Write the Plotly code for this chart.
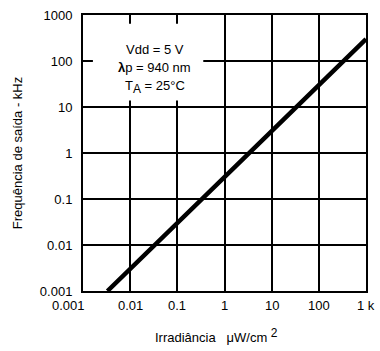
import math
import plotly.graph_objects as go

# Data (log-log, y ≈ 0.3·x)
irradiance = [0.0033, 0.01, 0.1, 1, 10, 100, 1000]          # µW/cm²
frequency = [0.001, 0.003, 0.03, 0.3, 3, 30, 300]            # kHz

x_tick_vals = [0.001, 0.01, 0.1, 1, 10, 100, 1000]
x_tick_text = ["0.001", "0.01", "0.1", "1", "10", "100", "1 k"]
y_tick_vals = [0.001, 0.01, 0.1, 1, 10, 100, 1000]
y_tick_text = ["0.001", "0.01", "0.1", "1", "10", "100", "1000"]

conditions = [
    "Vdd = 5 V",
    "<b>λ</b>p = 940 nm",
    "T<sub><span style='font-size:12px'>A</span></sub> = 25°C",
]

FONT = "Liberation Sans, Arial, sans-serif"

fig = go.Figure()
fig.add_trace(go.Scatter(
    x=irradiance, y=frequency, mode="lines",
    line=dict(color="black", width=4.5), showlegend=False,
))

annotations = []
# x tick labels as annotations (first one nudged left as in the original)
for i, (v, t) in enumerate(zip(x_tick_vals, x_tick_text)):
    annotations.append(dict(
        x=math.log10(v), y=0, xref="x", yref="paper",
        text=t, showarrow=False, xanchor="center", yanchor="top",
        yshift=-5, xshift=-15 if i == 0 else 0,
        font=dict(family=FONT, size=13, color="black"),
    ))

# operating-condition block
cond_y = [0.876, 0.809, 0.739]
for t, yy in zip(conditions, cond_y):
    annotations.append(dict(
        x=0.254, y=yy, xref="paper", yref="paper",
        text=t, showarrow=False, xanchor="center", yanchor="middle",
        font=dict(family=FONT, size=13, color="black"),
    ))

annotations.append(dict(
    x=0.47, y=0, xref="paper", yref="paper",
    text="Irradiância   μW/cm <sup><span style='font-size:12px'>2</span></sup>",
    showarrow=False, xanchor="center", yanchor="top", yshift=-33,
    font=dict(family=FONT, size=13, color="black"),
))

fig.update_layout(
    width=380, height=351,
    margin=dict(l=83, r=14, t=8, b=60),
    paper_bgcolor="white", plot_bgcolor="white",
    font=dict(family=FONT, size=13, color="black"),
    annotations=annotations,
    shapes=[dict(
        type="rect", xref="paper", yref="paper",
        x0=0.035, x1=0.425, y0=0.69, y1=0.968,
        fillcolor="white", line=dict(width=0), layer="above",
    )],
)

fig.update_xaxes(
    type="log", range=[-3, 3],
    tickvals=x_tick_vals, showticklabels=False,
    showgrid=True, gridcolor="black", gridwidth=1.8,
    showline=True, linecolor="black", linewidth=2, mirror=True,
    ticks="", zeroline=False,
)
fig.update_yaxes(
    type="log", range=[-3, 3],
    tickvals=y_tick_vals, ticktext=y_tick_text,
    showgrid=True, gridcolor="black", gridwidth=1.8,
    showline=True, linecolor="black", linewidth=2, mirror=True,
    ticks="", ticklabelstandoff=6, zeroline=False,
    tickfont=dict(family=FONT, size=13, color="black"),
    title=dict(text="Frequência de saída - kHz", standoff=14,
               font=dict(family=FONT, size=13, color="black")),
)

fig.write_html("out.html")
